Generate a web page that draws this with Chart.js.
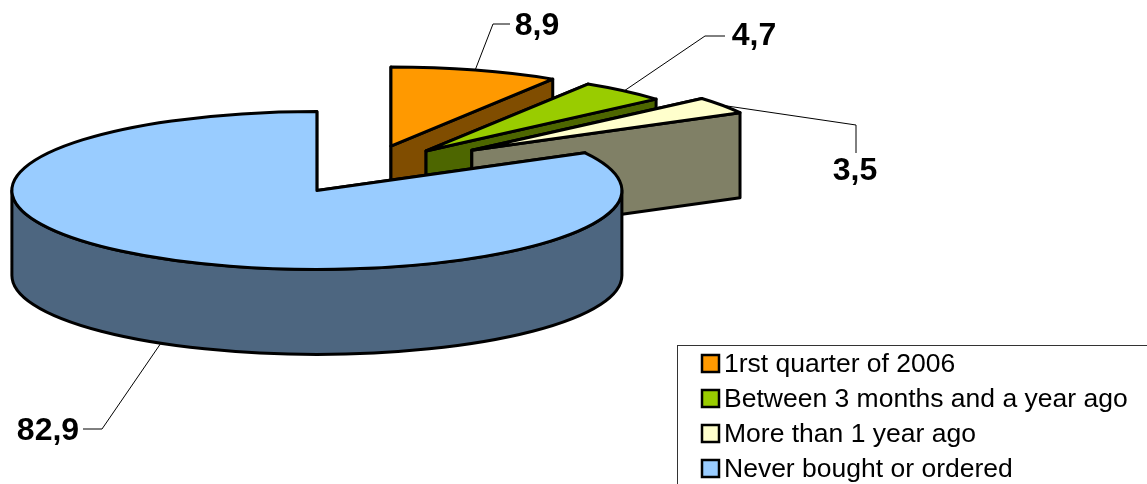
<!DOCTYPE html>
<html>
<head>
<meta charset="utf-8">
<title>Pie chart</title>
<script src="https://cdn.jsdelivr.net/npm/chart.js@4"></script>
<style>
    html, body { margin: 0; padding: 0; background: #fff; overflow: hidden; }
    #wrap { position: relative; width: 1147px; height: 484px; }
</style>
</head>
<body>
<div id="wrap"><canvas id="pieChart" width="1147" height="484"></canvas></div>
<script>
    // Data for the chart
    const labels = ['1rst quarter of 2006', 'Between 3 months and a year ago', 'More than 1 year ago', 'Never bought or ordered'];
    const values = [8.9, 4.7, 3.5, 82.9];
    const colors = ['#FF9900', '#99CC00', '#FFFFCC', '#99CCFF'];
    const sideColors = ['#804D00', '#4D6600', '#808066', '#4D6680'];

    // How far each slice is pulled out of the pie
    const explode = [94, 94, 130, 94];

    // Flattening of the pie and height of its side wall
    const squash = 0.259;
    const depth = 85;

    // Leader line bends and label centres, in the order of the slices
    const leaders = [
        { bend: [493, 24], end: [510, 24], text: [537, 26] },
        { bend: [705, 36], end: [725, 36], text: [754, 36] },
        { bend: [856, 125], end: [856, 153], text: [855, 171] },
        { bend: [102, 429], end: [83, 429], text: [48, 431] }
    ];

    const FONT = '"Liberation Sans", Arial, sans-serif';

    // Slice position on screen, with the flattening and the explosion applied
    function sliceGeometry(arc, i) {
        const mid = (arc.startAngle + arc.endAngle) / 2;
        const off = arc.options.offset;
        const cy = arc.y + Math.sin(mid) * off * squash;
        return {
            cx: arc.x + Math.cos(mid) * off,
            cy: cy,
            rx: arc.outerRadius,
            ry: arc.outerRadius * squash,
            start: arc.startAngle,
            end: arc.endAngle,
            mid: mid
        };
    }

    function radialWall(ctx, g, angle) {
        const px = g.cx + Math.cos(angle) * g.rx;
        const py = g.cy + Math.sin(angle) * g.ry;
        ctx.beginPath();
        ctx.moveTo(g.cx, g.cy);
        ctx.lineTo(px, py);
        ctx.lineTo(px, py + depth);
        ctx.lineTo(g.cx, g.cy + depth);
        ctx.closePath();
        ctx.fill();
        ctx.stroke();
    }

    // Rim wall, only the part of the arc that faces the viewer
    function outerWall(ctx, g) {
        const a0 = Math.max(g.start, 0);
        const a1 = Math.min(g.end, Math.PI);
        if (a1 <= a0) return;
        ctx.beginPath();
        ctx.ellipse(g.cx, g.cy, g.rx, g.ry, 0, a0, a1);
        ctx.ellipse(g.cx, g.cy + depth, g.rx, g.ry, 0, a1, a0, true);
        ctx.closePath();
        ctx.fill();
        ctx.stroke();
    }

    // Replaces the flat arcs with extruded ones, back to front
    const extrudedPie = {
        id: 'extrudedPie',
        beforeDatasetDraw(chart, args) {
            const ctx = chart.ctx;
            ctx.save();
            ctx.lineJoin = 'round';
            args.meta.data.forEach(function(arc, i) {
                const g = sliceGeometry(arc, i);
                ctx.lineWidth = arc.options.borderWidth;
                ctx.strokeStyle = arc.options.borderColor;
                ctx.fillStyle = sideColors[i];
                radialWall(ctx, g, g.start);
                radialWall(ctx, g, g.end);
                outerWall(ctx, g);
                ctx.fillStyle = arc.options.backgroundColor;
                ctx.beginPath();
                ctx.moveTo(g.cx, g.cy);
                ctx.ellipse(g.cx, g.cy, g.rx, g.ry, 0, g.start, g.end);
                ctx.closePath();
                ctx.fill();
                ctx.stroke();
            });
            ctx.restore();
            return false;
        },
        afterDraw(chart) {
            const ctx = chart.ctx;
            const arcs = chart.getDatasetMeta(0).data;
            ctx.save();

            // Value labels and their leader lines
            arcs.forEach(function(arc, i) {
                const g = sliceGeometry(arc, i);
                const ax = g.cx + Math.cos(g.mid) * g.rx;
                const ay = g.cy + Math.sin(g.mid) * g.ry + (Math.sin(g.mid) > 0 ? depth : 0);
                const l = leaders[i];
                ctx.strokeStyle = '#000';
                ctx.lineWidth = 1;
                ctx.beginPath();
                ctx.moveTo(ax, ay);
                ctx.lineTo(l.bend[0], l.bend[1]);
                ctx.lineTo(l.end[0], l.end[1]);
                ctx.stroke();
                ctx.fillStyle = '#000';
                ctx.font = 'bold 32px ' + FONT;
                ctx.textAlign = 'center';
                ctx.textBaseline = 'middle';
                ctx.fillText(String(values[i]).replace('.', ','), l.text[0], l.text[1]);
            });

            // Legend box, cut off by the edge of the canvas
            ctx.strokeStyle = '#333';
            ctx.lineWidth = 1;
            ctx.strokeRect(677.5, 345.5, 500, 170);
            ctx.font = '26.5px ' + FONT;
            ctx.textAlign = 'left';
            ctx.textBaseline = 'middle';
            labels.forEach(function(label, i) {
                const y = 363 + i * 35;
                ctx.fillStyle = colors[i];
                ctx.strokeStyle = '#000';
                ctx.lineWidth = 2.5;
                ctx.fillRect(702, y - 8, 17, 17);
                ctx.strokeRect(702, y - 8, 17, 17);
                ctx.fillStyle = '#000';
                ctx.fillText(label, 724, y + 2);
            });
            ctx.restore();
        }
    };

    const ctxPie = document.getElementById('pieChart').getContext('2d');
    const pieChart = new Chart(ctxPie, {
        type: 'pie',
        data: {
            labels: labels,
            datasets: [{
                data: values,
                backgroundColor: colors,
                borderColor: '#000',
                borderWidth: 3,
                offset: explode,
                radius: 305
            }]
        },
        options: {
            responsive: false,
            animation: false,
            layout: { padding: { right: 417, bottom: 145 } },
            plugins: {
                legend: { display: false },
                tooltip: { enabled: false }
            }
        },
        plugins: [extrudedPie]
    });
</script>
</body>
</html>
